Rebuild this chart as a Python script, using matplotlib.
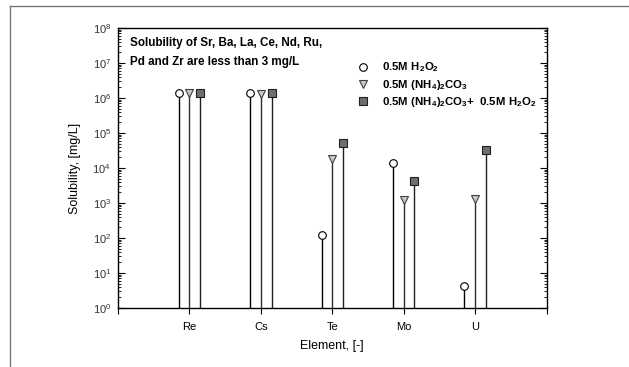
import numpy as np
import matplotlib.pyplot as plt
from matplotlib.lines import Line2D
from matplotlib.ticker import LogLocator, FixedLocator, NullFormatter

plt.rcParams['font.family'] = ['Liberation Sans', 'DejaVu Sans']
plt.rcParams['mathtext.fontset'] = 'custom'
plt.rcParams['mathtext.rm'] = 'Liberation Sans'
plt.rcParams['mathtext.bf'] = 'Liberation Sans:bold'

# --- dados ---
elements = ['Re', 'Cs', 'Te', 'Mo', 'U']
h2o2 = [1.4e6, 1.35e6, 120, 1.4e4, 4.3]
nh4co3 = [1.35e6, 1.3e6, 1.8e4, 1.2e3, 1.3e3]
nh4co3_h2o2 = [1.4e6, 1.35e6, 5.2e4, 4.3e3, 3.3e4]
series_labels = [r'$\mathbf{0.5M\ H_2O_2}$',
                 r'$\mathbf{0.5M\ (NH_4)_2CO_3}$',
                 r'$\mathbf{0.5M\ (NH_4)_2CO_3\!+\ 0.5M\ H_2O_2}$']
note_lines = ['Solubility of Sr, Ba, La, Ce, Nd, Ru,',
              'Pd and Zr are less than 3 mg/L']

W, H = 629, 367
fig = plt.figure(figsize=(W / 100, H / 100), dpi=100)
ax = fig.add_axes([118 / W, 1 - 308 / H, (546.5 - 118) / W, (308 - 28) / H])

x = np.arange(1, len(elements) + 1)
dx = 0.15
styles = [
    dict(marker='o', mfc='white', mec='black', line='black'),
    dict(marker='v', mfc='#c8c8c8', mec='#404040', line='#303030'),
    dict(marker='s', mfc='#6e6e6e', mec='#202020', line='#202020'),
]
handles = []
for k, (vals, st) in enumerate(zip([h2o2, nh4co3, nh4co3_h2o2], styles)):
    xs = x + (k - 1) * dx
    ax.vlines(xs, 1, vals, color=st['line'], lw=1.0, zorder=2)
    h, = ax.plot(xs, vals, ls='none', marker=st['marker'], ms=5.5,
                 mfc=st['mfc'], mec=st['mec'], mew=0.8, zorder=3,
                 label=series_labels[k])
    handles.append(h)

ax.set_yscale('log')
ax.set_ylim(1, 1e8)
ax.set_xlim(0, 6)

ax.xaxis.set_major_locator(FixedLocator(range(0, 7)))
ax.set_xticklabels([''] + elements + [''], fontsize=8)
ax.tick_params(axis='x', direction='out', length=4, width=0.8, top=False,
               pad=6, colors='black')

ax.yaxis.set_major_locator(LogLocator(base=10, numticks=20))
ax.yaxis.set_minor_locator(LogLocator(base=10, subs=np.arange(2, 10), numticks=20))
ax.yaxis.set_minor_formatter(NullFormatter())
ax.tick_params(axis='y', which='major', direction='in', length=5, width=0.8,
               left=True, right=True, labelsize=8, pad=5)
ax.tick_params(axis='y', which='minor', direction='in', length=2.5, width=0.6,
               left=True, right=True)
for lbl in ax.get_yticklabels():
    lbl.set_color('#333333')

for sp in ax.spines.values():
    sp.set_linewidth(1.0)

ax.set_ylabel('Solubility, [mg/L]', fontsize=9, labelpad=8)
ax.set_xlabel('Element, [-]', fontsize=9, labelpad=6)

for ypos, line in zip([0.946, 0.879], note_lines):
    ax.text(0.028, ypos, line, transform=ax.transAxes, fontsize=8.4,
            fontweight='bold', va='center', ha='left')

ax.legend(handles=handles, loc='upper left', bbox_to_anchor=(0.548, 0.9),
          frameon=False, fontsize=8.2, handlelength=1.0, handletextpad=1.2,
          labelspacing=0.3, borderaxespad=0)

# moldura externa
fig.add_artist(Line2D([10 / W, 1], [1 - 6 / H, 1 - 6 / H], color='#777777', lw=1.0))
fig.add_artist(Line2D([10 / W, 10 / W], [0, 1 - 6 / H], color='#777777', lw=1.0))

fig.savefig('out.png', dpi=100)
